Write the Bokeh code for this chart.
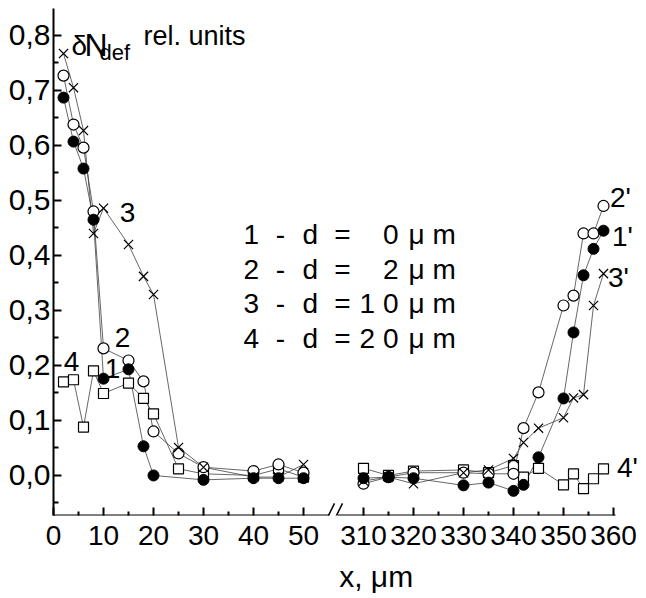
from bokeh.plotting import figure
from bokeh.models import Range1d, FixedTicker, Label, Arrow
from bokeh.embed import file_html
from bokeh.resources import INLINE

# ---------------- data (x in micrometres, values in rel. units) ----------------
x_left = [2, 4, 6, 8, 10, 15, 18, 20, 25, 30, 40, 45, 50]
x_left_1 = [2, 4, 6, 8, 10, 15, 18, 20, 30, 40, 45, 50]
s1_left = [0.687, 0.607, 0.558, 0.465, 0.176, 0.193, 0.053, 0.000, -0.008, -0.005, -0.005, -0.005]
s2_left = [0.727, 0.638, 0.596, 0.480, 0.231, 0.209, 0.171, 0.080, 0.040, 0.015, 0.008, 0.020, 0.005]
s3_left = [0.767, 0.705, 0.627, 0.440, 0.486, 0.420, 0.362, 0.329, 0.051, 0.015, -0.003, -0.003, 0.020]
s4_left = [0.170, 0.174, 0.088, 0.190, 0.149, 0.168, 0.140, 0.112, 0.012, 0.003, 0.000, 0.012, -0.003]

x_right = [310, 315, 320, 330, 335, 340, 342, 345, 350, 352, 354, 356, 358]
s1_right = [-0.005, -0.003, -0.005, -0.018, -0.013, -0.028, -0.017, 0.033, 0.140, 0.260, 0.364, 0.412, 0.445]
s2_right = [-0.015, -0.003, 0.005, 0.005, 0.003, 0.003, 0.086, 0.151, 0.309, 0.327, 0.440, 0.440, 0.490]
s3_right = [-0.010, -0.003, -0.015, 0.005, 0.010, 0.031, 0.060, 0.086, 0.105, 0.141, 0.147, 0.309, 0.367]
s4_right = [0.013, 0.000, 0.008, 0.010, 0.005, 0.018, -0.003, 0.013, -0.017, 0.003, -0.024, -0.006, 0.012]

x_major = [0, 10, 20, 30, 40, 50, 310, 320, 330, 340, 350, 360]
x_major_labels = ["0", "10", "20", "30", "40", "50", "310", "320", "330", "340", "350", "360"]
x_minor = [5, 15, 25, 35, 45, 315, 325, 335, 345, 355]
y_major = [0.0, 0.1, 0.2, 0.3, 0.4, 0.5, 0.6, 0.7, 0.8]
y_major_labels = ["0,0", "0,1", "0,2", "0,3", "0,4", "0,5", "0,6", "0,7", "0,8"]
y_minor = [-0.05, 0.05, 0.15, 0.25, 0.35, 0.45, 0.55, 0.65, 0.75, 0.85]

legend_ids = ["1", "2", "3", "4"]
legend_d = ["0", "2", "1 0", "2 0"]
series_tags = ["1", "2", "3", "4", "2'", "1'", "3'", "4'"]

# ---------------- broken axis mapping ----------------
SHIFT = 248  # right part (x >= 300) is shifted left onto the same scale


def to_u(xs):
    return [x - SHIFT if x > 100 else x for x in xs]


FONT = "Liberation Sans"

p = figure(width=646, height=598, output_backend="svg", toolbar_location=None,
           x_range=Range1d(0, 117.4), y_range=Range1d(-0.0728, 0.849),
           min_border_left=53, min_border_right=6, min_border_top=8, min_border_bottom=83)
p.outline_line_color = None
p.xgrid.visible = False
p.ygrid.visible = False
p.background_fill_color = "white"


# page-pixel helpers for annotation placement
def U(px):
    return (px - 53) / 5.0


def V(py):
    return (475 - py) / 550.0


# ---------------- axes ----------------
xa = p.xaxis[0]
xa.ticker = FixedTicker(ticks=to_u(x_major), minor_ticks=to_u(x_minor))
xa.major_label_overrides = {u: lab for u, lab in zip(to_u(x_major), x_major_labels)}
xa.axis_line_color = None
xa.major_tick_in = 8
xa.major_tick_out = 0
xa.minor_tick_in = 4
xa.minor_tick_out = 0
xa.major_tick_line_width = 2
xa.minor_tick_line_width = 2
xa.major_label_text_font = FONT
xa.major_label_text_font_size = "28px"
xa.major_label_text_color = "black"
xa.major_label_standoff = 10
xa.axis_label = "\u00a0" * 7 + "x, μm"
xa.axis_label_text_font = FONT
xa.axis_label_text_font_size = "30px"
xa.axis_label_text_font_style = "normal"
xa.axis_label_text_color = "black"
xa.axis_label_standoff = 12

ya = p.yaxis[0]
ya.ticker = FixedTicker(ticks=y_major, minor_ticks=y_minor)
ya.major_label_overrides = {v: lab for v, lab in zip(y_major, y_major_labels)}
ya.axis_line_width = 2
ya.major_tick_in = 8
ya.major_tick_out = 0
ya.minor_tick_in = 5
ya.minor_tick_out = 0
ya.major_tick_line_width = 2
ya.minor_tick_line_width = 2
ya.major_label_text_font = FONT
ya.major_label_text_font_size = "30px"
ya.major_label_text_color = "black"
ya.major_label_standoff = 3

# broken x-axis line and break marks
y0 = p.y_range.start
for xs, xe in [(0, 55.2), (56.8, 112.4)]:
    p.add_layout(Arrow(x_start=xs, y_start=y0, x_end=xe, y_end=y0, end=None,
                       line_width=2, line_color="black"))
for px0 in (325, 333):
    p.add_layout(Arrow(x_start=U(px0), y_start=V(521), x_end=U(px0 + 9), y_end=V(503),
                       end=None, line_width=1.5, line_color="black"))

# ---------------- series ----------------
LC = "#404040"
LW = 0.8
for xs, ys in [(x_left, s4_left), (x_right, s4_right),
               (x_left, s2_left), (x_right, s2_right),
               (x_left_1, s1_left), (x_right, s1_right),
               (x_left, s3_left), (x_right, s3_right)]:
    p.line(to_u(xs), ys, line_color=LC, line_width=LW)

for xs, ys in [(x_left, s4_left), (x_right, s4_right)]:
    p.scatter(to_u(xs), ys, marker="square", size=10, fill_color="white",
              line_color="black", line_width=1.2)
for xs, ys in [(x_left, s2_left), (x_right, s2_right)]:
    p.scatter(to_u(xs), ys, marker="circle", size=11, fill_color="white",
              line_color="black", line_width=1.2)
for xs, ys in [(x_left_1, s1_left), (x_right, s1_right)]:
    p.scatter(to_u(xs), ys, marker="circle", size=11, fill_color="black",
              line_color="black")
for xs, ys in [(x_left, s3_left), (x_right, s3_right)]:
    p.scatter(to_u(xs), ys, marker="x", size=13, line_color="black", line_width=1.2)


# ---------------- texts ----------------
def lab(text, px, py, size="28px", align="center", baseline="middle"):
    p.add_layout(Label(x=U(px), y=V(py), text=text, text_font=FONT, text_font_size=size,
                       text_align=align, text_baseline=baseline, text_color="black"))


# y label inside the plot
lab("δ", 71, 45, size="28px", align="left", baseline="alphabetic")
lab("N", 84, 45, size="32px", align="left", baseline="alphabetic")
lab("def", 99, 52, size="22px", align="left", baseline="alphabetic")
lab("rel.  units", 143, 36, size="27px", align="left", baseline="alphabetic")

# legend block
legend_y = [234, 269, 303, 338]
for i, d, py in zip(legend_ids, legend_d, legend_y):
    lab(i, 243, py, align="left")
    lab("-", 280, py)
    lab("d", 302, py, align="left")
    lab("=", 342, py)
    lab(d, 398, py, align="right")
    lab("μ m", 408, py, align="left")

# curve tags
tag_pos = [(112, 368), (122, 337), (127, 212), (71, 361),
           (620, 197), (622, 236), (618, 277), (627, 467)]
for t, (px, py) in zip(series_tags, tag_pos):
    lab(t, px, py)

open("out.html", "w").write(file_html(p, INLINE))
